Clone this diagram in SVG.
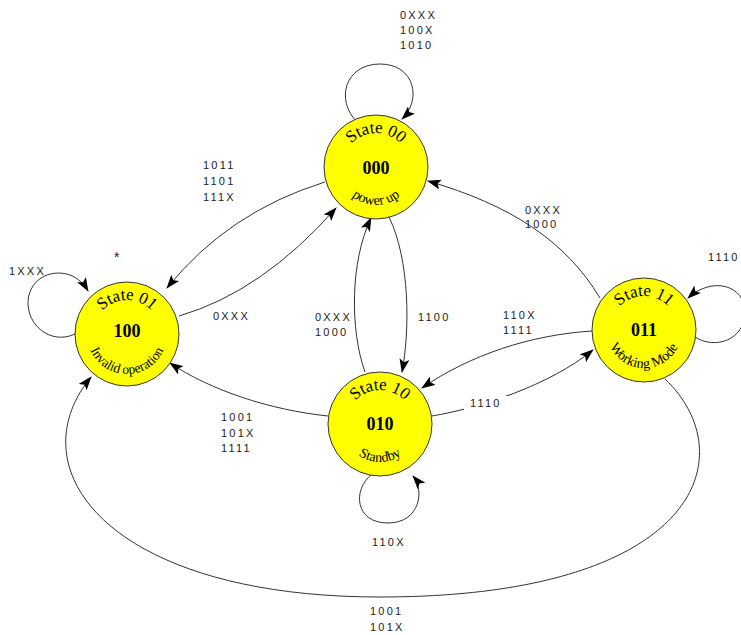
<svg xmlns="http://www.w3.org/2000/svg" width="741" height="635" viewBox="0 0 741 635">
  <style>
    .state { fill: #ffff00; stroke: #333; stroke-width: 1; }
    .num { font-family: "Liberation Serif", serif; font-size: 18px; font-weight: bold; fill: #000; text-anchor: middle; }
    .title { font-family: "Liberation Serif", serif; font-size: 17px; fill: #000; }
    .sub { font-family: "Liberation Serif", serif; font-size: 14px; fill: #000; }
    .edge { fill: none; stroke: #333; stroke-width: 1; marker-end: url(#arrow); }
    .lbl { font-family: "Liberation Sans", sans-serif; font-size: 11px; letter-spacing: 2.2px; fill: #222; }
  </style>
  <defs>
    <marker id="arrow" viewBox="0 0 14 10" refX="13" refY="5" markerWidth="14" markerHeight="10" markerUnits="userSpaceOnUse" orient="auto">
      <path d="M0,0 L14,5 L0,10 L3,5 z" fill="#000"/>
    </marker>
    <!-- text arcs: top (over the crown) and bottom (under the base) of each state -->
    <path id="t00" d="M342,167 A34,34 0 0 1 410,167"/>
    <path id="b00" d="M338,167 A38,38 0 0 0 414,167"/>
    <path id="t01" d="M93,334 A34,34 0 0 1 161,334"/>
    <path id="b01" d="M87,334 A40,40 0 0 0 167,334"/>
    <path id="t10" d="M346,424 A34,34 0 0 1 414,424"/>
    <path id="b10" d="M342,424 A38,38 0 0 0 418,424"/>
    <path id="t11" d="M610,330 A34,34 0 0 1 678,330"/>
    <path id="b11" d="M606,330 A38,38 0 0 0 682,330"/>
  </defs>

  <g id="connectors">
    <!-- self loops -->
    <path class="edge" d="M357,122 C335,100 345,64 380,64 C415,64 422,100 402,119"/>
    <path class="edge" d="M77,333 C55,345 30,330 28,305 C27,280 50,268 70,275 C78,278 84,284 88,291"/>
    <path class="edge" d="M695,337 C715,350 745,340 745,312 C745,285 712,276 688,298"/>
    <path class="edge" d="M372,474 C352,490 355,523 388,523 C420,523 425,490 413,476"/>
    <!-- 00 <-> 01 -->
    <path class="edge" d="M325,182 Q228,212 167,288"/>
    <path class="edge" d="M179,316 Q262,292 336,208"/>
    <!-- 00 <-> 10 -->
    <path class="edge" d="M389,217 C410,260 410,330 402,372"/>
    <path class="edge" d="M365,372 C350,330 350,262 371,218"/>
    <!-- 11 -> 00 -->
    <path class="edge" d="M600,298 C565,240 510,205 428,181"/>
    <!-- 11 <-> 10 -->
    <path class="edge" d="M592,331 C530,335 470,355 422,388"/>
    <path class="edge" d="M432,416 C480,408 550,385 593,350"/>
    <!-- 10 -> 01 -->
    <path class="edge" d="M328,416 C270,410 210,390 170,363"/>
    <!-- 11 -> 01, long way round the bottom -->
    <path class="edge" d="M665,379 C745,455 700,597 380,597 C110,597 15,470 91,377"/>
  </g>

  <g id="labels">
    <text class="lbl" x="400" y="19">0XXX</text>
    <text class="lbl" x="400" y="34">100X</text>
    <text class="lbl" x="400" y="49">1010</text>
    <text class="lbl" x="203" y="169">1011</text>
    <text class="lbl" x="203" y="185">1101</text>
    <text class="lbl" x="203" y="201">111X</text>
    <text class="lbl" x="114" y="262" style="font-size:14px">*</text>
    <text class="lbl" x="9" y="275">1XXX</text>
    <text class="lbl" x="213" y="320">0XXX</text>
    <text class="lbl" x="315" y="321">0XXX</text>
    <text class="lbl" x="315" y="336">1000</text>
    <text class="lbl" x="418" y="321">1100</text>
    <text class="lbl" x="525" y="214">0XXX</text>
    <text class="lbl" x="525" y="228">1000</text>
    <text class="lbl" x="708" y="261">1110</text>
    <text class="lbl" x="503" y="319">110X</text>
    <text class="lbl" x="503" y="334">1111</text>
    <rect x="464" y="396" width="48" height="14" fill="#fff"/>
    <text class="lbl" x="470" y="407">1110</text>
    <text class="lbl" x="221" y="421">1001</text>
    <text class="lbl" x="221" y="437">101X</text>
    <text class="lbl" x="221" y="452">1111</text>
    <text class="lbl" x="372" y="546">110X</text>
    <text class="lbl" x="370" y="615">1001</text>
    <text class="lbl" x="370" y="631">101X</text>
  </g>

  <g id="state00">
    <circle class="state" cx="376" cy="167" r="52"/>
    <text class="title"><textPath href="#t00" startOffset="50%" text-anchor="middle">State 00</textPath></text>
    <text class="num" x="376" y="174">000</text>
    <text class="sub"><textPath href="#b00" startOffset="50%" text-anchor="middle">power up</textPath></text>
  </g>
  <g id="state01">
    <circle class="state" cx="127" cy="334" r="52"/>
    <text class="title"><textPath href="#t01" startOffset="50%" text-anchor="middle">State 01</textPath></text>
    <text class="num" x="127" y="337">100</text>
    <text class="sub" style="font-size:13.5px"><textPath href="#b01" startOffset="50%" text-anchor="middle">Invalid operation</textPath></text>
  </g>
  <g id="state10">
    <circle class="state" cx="380" cy="424" r="52"/>
    <text class="title"><textPath href="#t10" startOffset="50%" text-anchor="middle">State 10</textPath></text>
    <text class="num" x="380" y="430">010</text>
    <text class="sub"><textPath href="#b10" startOffset="50%" text-anchor="middle">Standby</textPath></text>
  </g>
  <g id="state11">
    <circle class="state" cx="644" cy="330" r="52"/>
    <text class="title"><textPath href="#t11" startOffset="50%" text-anchor="middle">State 11</textPath></text>
    <text class="num" x="644" y="336">011</text>
    <text class="sub"><textPath href="#b11" startOffset="50%" text-anchor="middle">Working Mode</textPath></text>
  </g>
</svg>
